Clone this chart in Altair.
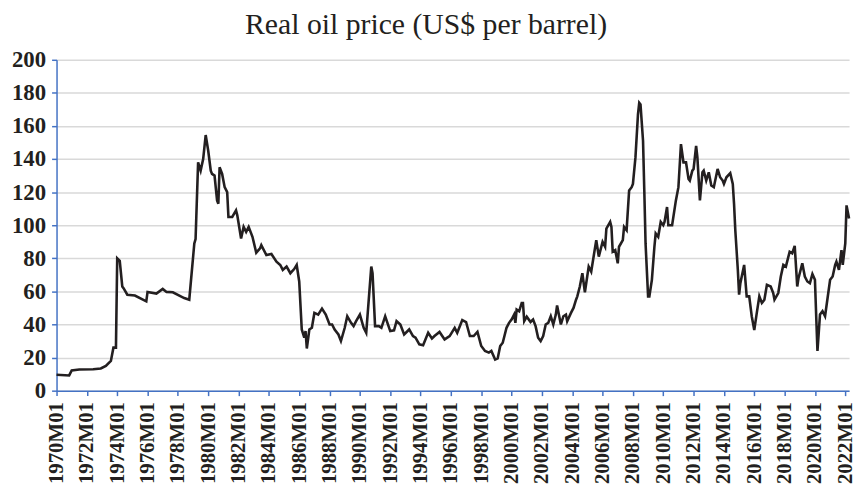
import altair as alt
import pandas as pd

dates = [
    "1970-01","1970-11","1971-01","1971-07","1972-06","1972-12","1973-04","1973-08","1973-10","1973-12",
    "1974-01","1974-03","1974-05","1974-06","1974-09","1975-03","1975-12","1976-01","1976-08","1977-01",
    "1977-04","1977-09","1978-06","1978-10","1979-02","1979-03","1979-05","1979-07","1979-09","1979-11",
    "1980-01","1980-03","1980-04","1980-06","1980-08","1980-09","1980-10","1980-12","1981-02","1981-04",
    "1981-05","1981-08","1981-11","1981-12","1982-03","1982-05","1982-07","1982-09","1982-12","1983-03",
    "1983-06","1983-07","1983-11","1984-03","1984-07","1984-10","1984-12","1985-03","1985-06","1985-09",
    "1985-11","1986-01","1986-03","1986-05","1986-06","1986-07","1986-09","1986-11","1987-01","1987-04",
    "1987-07","1987-10","1988-01","1988-03","1988-05","1988-08","1988-10","1989-01","1989-03","1989-06",
    "1989-08","1989-10","1990-01","1990-04","1990-06","1990-10","1990-11","1991-01","1991-04","1991-06",
    "1991-09","1992-01","1992-04","1992-06","1992-09","1992-12","1993-04","1993-07","1993-09","1993-12",
    "1994-03","1994-07","1994-10","1994-12","1995-04","1995-08","1995-12","1996-04","1996-06","1996-10",
    "1997-01","1997-04","1997-07","1997-10","1998-01","1998-04","1998-07","1998-09","1998-12","1999-02",
    "1999-04","1999-06","1999-09","1999-11","2000-01","2000-03","2000-04","2000-05","2000-07","2000-09",
    "2000-10","2000-11","2001-01","2001-04","2001-06","2001-08","2001-10","2001-12","2002-02","2002-04",
    "2002-06","2002-08","2002-10","2002-12","2003-01","2003-04","2003-06","2003-08","2003-09","2003-12",
    "2004-02","2004-04","2004-05","2004-07","2004-09","2004-11","2005-02","2005-04","2005-08","2005-10",
    "2006-01","2006-03","2006-04","2006-07","2006-08","2006-09","2006-11","2007-01","2007-02","2007-05",
    "2007-06","2007-08","2007-10","2007-12","2008-01","2008-03","2008-05","2008-06","2008-07","2008-09",
    "2008-10","2008-11","2009-01","2009-02","2009-04","2009-06","2009-07","2009-09","2009-11","2010-01",
    "2010-02","2010-04","2010-05","2010-08","2010-11","2011-01","2011-03","2011-05","2011-07","2011-09",
    "2011-10","2011-12","2012-01","2012-03","2012-04","2012-06","2012-08","2012-09","2012-11","2013-01",
    "2013-03","2013-05","2013-08","2013-10","2013-12","2014-01","2014-03","2014-06","2014-08","2014-09",
    "2014-10","2014-12","2015-01","2015-02","2015-05","2015-07","2015-09","2015-11","2016-01","2016-03",
    "2016-05","2016-07","2016-09","2016-11","2017-02","2017-04","2017-05","2017-08","2017-10","2017-12",
    "2018-02","2018-05","2018-07","2018-09","2018-11","2018-12","2019-03","2019-05","2019-07","2019-09",
    "2019-11","2020-01","2020-02","2020-03","2020-05","2020-07","2020-09","2020-11","2021-01","2021-03",
    "2021-05","2021-06","2021-08","2021-10","2021-11","2022-01","2022-02","2022-04",
]

prices = [
    9.6, 9.2, 12.2, 12.8, 13, 13.4, 15, 18, 26, 26,
    80, 78.5, 63, 62, 58, 57.5, 54, 59.7, 58.7, 61.5,
    59.7, 59.5, 56, 55, 89, 91.6, 138, 133, 140, 154.5,
    145, 133, 131, 130, 115, 113, 135, 131, 123, 120,
    105, 105, 109, 106, 92, 99, 96, 99, 93, 83.4,
    86, 88, 82, 82.6, 78, 76, 73, 75, 71, 73.5,
    76, 66, 37, 32, 36, 25.5, 37, 38, 47, 46,
    49.6, 46, 40, 40, 37, 34, 30, 38, 45, 41,
    39, 42, 46, 38, 35, 75, 71, 39, 39, 38,
    45, 36, 36.5, 42, 40, 34, 37, 33, 32, 28,
    27.5, 35, 31.5, 33, 35.5, 31, 33, 38, 35, 42.7,
    41.5, 33, 33, 35.5, 27, 24, 23, 24, 18.8, 19.5,
    27, 29, 38, 41, 43, 46, 41, 49, 48, 53,
    53, 42, 44.7, 41.5, 43, 39, 32, 30, 33, 40,
    41, 45, 40, 46, 51.5, 40, 45, 46, 42, 47,
    50, 55, 57, 63, 71, 59.5, 75, 72, 91, 81,
    90, 87, 98, 102, 99, 84, 85, 77, 87, 91,
    99, 97, 121, 123, 125, 141, 167, 174, 173, 151,
    121, 89, 57, 57, 67, 87, 95, 93, 102, 100,
    102, 111, 100, 100, 115, 123, 149, 138, 138, 128,
    127, 133, 134, 148, 141, 115, 132, 133, 127, 132,
    124, 123, 134, 129, 127, 125, 129, 131.5, 125, 113,
    97, 73, 58, 65, 76, 57, 57, 45, 36.7, 47,
    57, 53, 55, 64, 63, 59, 55, 59, 69, 76,
    75, 84, 83, 87.5, 63, 68, 77, 69, 66, 65,
    70.5, 67, 45, 24, 46, 48, 45, 56, 67, 69,
    76, 78, 73, 85, 76, 89, 112, 104,
]

y_ticks = [0, 20, 40, 60, 80, 100, 120, 140, 160, 180, 200]
x_tick_years = list(range(1970, 2023, 2))

df = pd.DataFrame({"date": dates, "price": prices})
df["m"] = df["date"].map(lambda s: (int(s[:4]) - 1970) * 12 + int(s[5:7]) - 1)
x_tick_values = [(y - 1970) * 12 for y in x_tick_years]

FONT = "Liberation Serif"
BLUE = "#4472C4"
INK = "#231f20"

chart = alt.Chart(df).mark_line(color=INK, strokeWidth=2.6, interpolate="linear").encode(
    x=alt.X(
        "m:Q",
        scale=alt.Scale(domain=[0, 627], nice=False, zero=False),
        axis=alt.Axis(
            values=x_tick_values,
            labelExpr="floor(datum.value / 12) + 1970 + 'M01'",
            labelAngle=270,
            labelFont=FONT,
            labelFontSize=21,
            labelFontWeight="bold",
            labelColor=INK,
            labelPadding=6,
            labelOverlap=False,
            labelBound=False,
            domainColor=BLUE,
            domainWidth=1.5,
            tickColor=BLUE,
            tickWidth=1.5,
            tickSize=5,
            grid=False,
            title=None,
        ),
    ),
    y=alt.Y(
        "price:Q",
        scale=alt.Scale(domain=[0, 200], nice=False),
        axis=alt.Axis(
            values=y_ticks,
            labelFont=FONT,
            labelFontSize=23,
            labelFontWeight="bold",
            labelColor=INK,
            labelPadding=6,
            domainColor=BLUE,
            domainWidth=1.5,
            tickColor=BLUE,
            tickWidth=1.5,
            tickSize=5,
            grid=True,
            gridColor="#d9d9d9",
            gridWidth=1.5,
            title=None,
        ),
    ),
).properties(
    width=800,
    height=334,
    title=alt.TitleParams(
        "Real oil price (US$ per barrel)",
        font=FONT,
        fontSize=30,
        fontWeight="normal",
        color=INK,
        anchor="middle",
        dx=-27,
        offset=9,
    ),
    autosize=alt.AutoSizeParams(type="none"),
    padding={"left": 49, "top": 50, "right": 7, "bottom": 100},
).configure_view(stroke=None)

chart.save("out.html", embed_options={"renderer": "svg", "actions": False})
